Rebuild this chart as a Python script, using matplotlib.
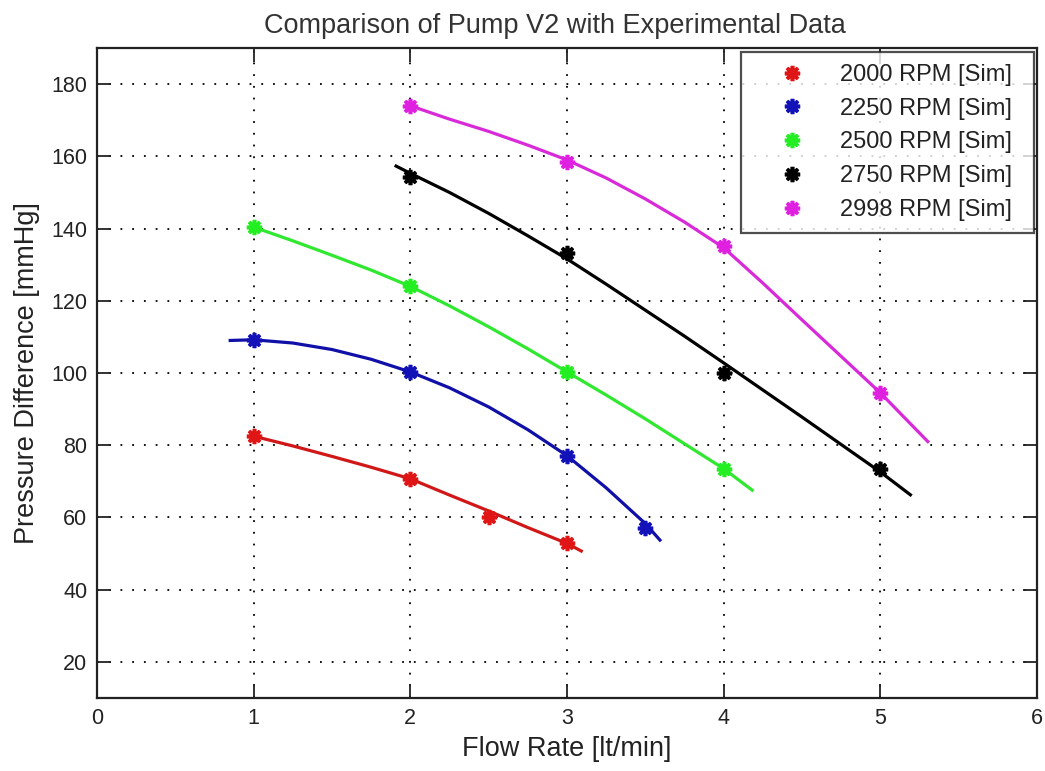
import matplotlib
matplotlib.use("Agg")
import matplotlib.pyplot as plt
from matplotlib.lines import Line2D

plt.rcParams['font.family'] = ['Liberation Sans', 'DejaVu Sans']

# ---- data ----
labels = ["2000 RPM [Sim]", "2250 RPM [Sim]", "2500 RPM [Sim]", "2750 RPM [Sim]", "2998 RPM [Sim]"]
colors = ["#e01515", "#1212b8", "#22ee22", "#000000", "#e020e0"]
line_colors = ["#d01818", "#1010a8", "#30e830", "#000000", "#d82ad8"]

# simulated points (markers)
red_x = [1, 2, 2.5, 3]
red_y = [82.5, 70.7, 60.2, 52.8]
blue_x = [1, 2, 3, 3.5]
blue_y = [109.2, 100.3, 76.9, 57.2]
green_x = [1, 2, 3, 4]
green_y = [140.4, 124.0, 100.2, 73.4]
black_x = [2, 3, 4, 5]
black_y = [154.3, 133.1, 100.1, 73.4]
mag_x = [2, 3, 4, 5]
mag_y = [174.0, 158.4, 135.2, 94.4]

# fitted curves
red_cx = [1.0, 1.25, 1.5, 1.75, 2.0, 2.25, 2.5, 2.75, 3.0, 3.1]
red_cy = [82.5, 79.8, 76.9, 73.9, 70.7, 66.2, 61.8, 57.2, 52.8, 50.5]
blue_cx = [0.84, 1.0, 1.25, 1.5, 1.75, 2.0, 2.25, 2.5, 2.75, 3.0, 3.25, 3.5, 3.6]
blue_cy = [109.0, 109.2, 108.3, 106.5, 103.8, 100.3, 95.9, 90.6, 84.3, 77.1, 68.2, 58.3, 53.4]
green_cx = [1.0, 1.25, 1.5, 1.75, 2.0, 2.25, 2.5, 2.75, 3.0, 3.25, 3.5, 3.75, 4.0, 4.19]
green_cy = [140.4, 136.6, 132.6, 128.5, 124.0, 118.6, 112.8, 106.7, 100.3, 93.9, 87.3, 80.4, 73.5, 67.3]
black_cx = [1.9, 2.0, 2.25, 2.5, 2.75, 3.0, 3.25, 3.5, 3.75, 4.0, 4.25, 4.5, 4.75, 5.0, 5.2]
black_cy = [157.5, 155.3, 150.0, 144.2, 138.0, 131.6, 124.6, 117.4, 110.2, 102.8, 95.3, 87.8, 80.2, 72.6, 66.0]
mag_cx = [2.0, 2.25, 2.5, 2.75, 3.0, 3.25, 3.5, 3.75, 4.0, 4.25, 4.5, 4.75, 5.0, 5.31]
mag_cy = [174.0, 170.3, 166.9, 163.1, 159.0, 154.0, 148.2, 141.8, 134.7, 124.9, 114.7, 104.6, 94.5, 80.7]

series = [
    (red_x, red_y, red_cx, red_cy),
    (blue_x, blue_y, blue_cx, blue_cy),
    (green_x, green_y, green_cx, green_cy),
    (black_x, black_y, black_cx, black_cy),
    (mag_x, mag_y, mag_cx, mag_cy),
]

x_ticks = [0, 1, 2, 3, 4, 5, 6]
y_ticks = [20, 40, 60, 80, 100, 120, 140, 160, 180]

fig = plt.figure(figsize=(10.45, 7.71), dpi=100)
ax = fig.add_axes([97/1045, 73/771, 940/1045, 650/771])

asterisk = (8, 2, 0)
for (mx, my, cx, cy), c, lc in zip(series, colors, line_colors):
    ax.plot(cx, cy, color=lc, lw=2.3, solid_capstyle='butt',
            solid_joinstyle='round', zorder=3)
    ax.plot(mx, my, linestyle='none', marker=asterisk, markersize=11,
            markeredgewidth=2.6, color=c, zorder=4)

ax.set_xlim(0, 6)
ax.set_ylim(10, 190)
ax.set_xticks(x_ticks)
ax.set_yticks(y_ticks)
ax.grid(True, color='black', linestyle=(0, (1, 5.5)), linewidth=1.3)
ax.tick_params(direction='in', length=10, width=1.3, top=True, right=True,
               labelsize=15.5, colors='#222222', pad=7)
for s in ax.spines.values():
    s.set_linewidth(1.6)
    s.set_color('#222222')

ax.set_xlabel("Flow Rate [lt/min]", fontsize=19.5, color='#222222', labelpad=5)
ax.set_ylabel("Pressure Difference [mmHg]", fontsize=19.5, color='#222222', labelpad=8)
ax.set_title("Comparison of Pump V2 with Experimental Data", fontsize=19.5,
             color='#333333', pad=11, x=0.487)

handles = [Line2D([], [], linestyle='none', marker=asterisk, markersize=11,
                  markeredgewidth=2.6, color=c) for c in colors]
leg = ax.legend(handles, labels, loc='upper right',
                bbox_to_anchor=(0.6851, 0.6, 0.3117, 0.3938), mode='expand',
                borderaxespad=0, fontsize=17, frameon=True, fancybox=False,
                handlelength=3.3, borderpad=0.5, handletextpad=0.4, labelspacing=0.5,
                numpoints=1)
leg.get_frame().set_edgecolor('#222222')
leg.get_frame().set_linewidth(1.6)
for t in leg.get_texts():
    t.set_color('#222222')

fig.savefig("out.png", dpi=100)
